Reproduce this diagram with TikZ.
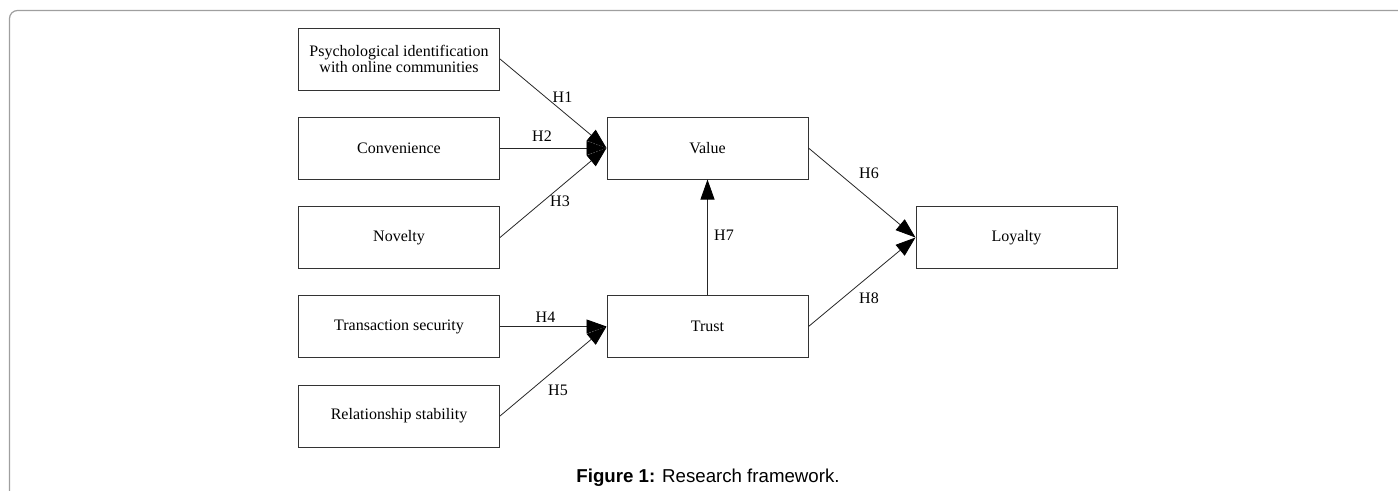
\documentclass[tikz,border=0pt]{standalone}
\usepackage{fontspec}
\setmainfont{Liberation Serif}
\newfontfamily\capfont{Liberation Sans}
\usetikzlibrary{arrows.meta}

\begin{document}
\begin{tikzpicture}[x=0.75pt, y=-0.75pt,
        factor/.style={draw=black!80, line width=0.75pt, minimum width=150.75pt, minimum height=46.5pt, inner sep=0pt, align=center, font=\fontsize{12}{12.5}\selectfont},
        hyp/.style={inner sep=0pt, font=\fontsize{12}{12}\selectfont},
        path/.style={draw=black!85, line width=0.6pt, -{Triangle[length=15pt, width=10.5pt, black]}}]
        \useasboundingbox (0, 0) rectangle (1398, 490);
        \draw[gray!75, line width=0.9pt, rounded corners=6pt] (1420, 10.5) -- (9.5, 10.5) -- (9.5, 520);

        \node[factor] (psy) at (399, 59) {Psychological identification\\with online communities};
        \node[factor] (con) at (399, 148) {Convenience};
        \node[factor] (nov) at (399, 237.5) {Novelty};
        \node[factor] (sec) at (399, 326.5) {Transaction security};
        \node[factor] (sta) at (399, 416) {Relationship stability};
        \node[factor] (val) at (707.5, 148) {Value};
        \node[factor] (tru) at (707.5, 326.5) {Trust};
        \node[factor] (loy) at (1016.5, 237.5) {Loyalty};

        \draw[path] (psy.east) -- (val.west);
        \draw[path] (con.east) -- (val.west);
        \draw[path] (nov.east) -- (val.west);
        \draw[path] (sec.east) -- (tru.west);
        \draw[path] (sta.east) -- (tru.west);
        \draw[path] (val.east) -- (loy.west);
        \draw[path] (tru.north) -- (val.south);
        \draw[path] (tru.east) -- (loy.west);

        \node[hyp] (h1) at (562.5, 97) {H1};
        \node[hyp] (h2) at (542, 136) {H2};
        \node[hyp] (h3) at (560, 201) {H3};
        \node[hyp] (h4) at (545.5, 317) {H4};
        \node[hyp] (h5) at (558, 390) {H5};
        \node[hyp] (h6) at (869, 173) {H6};
        \node[hyp] (h7) at (724, 235) {H7};
        \node[hyp] (h8) at (869, 298) {H8};

        \node[font=\capfont\fontsize{14}{14}\selectfont, anchor=base] (cap) at (708, 482.5) {\textbf{Figure 1:} Research framework.};
\end{tikzpicture}
\end{document}
